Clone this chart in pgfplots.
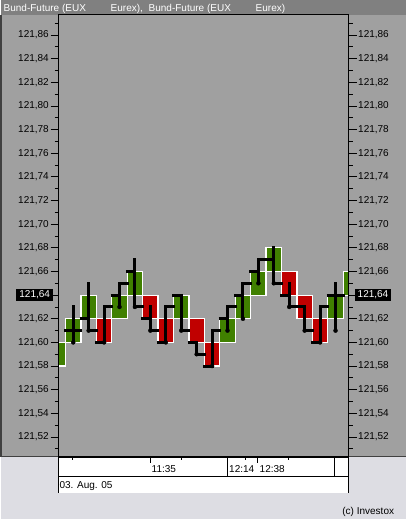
\documentclass[border=0pt]{standalone}
\usepackage{pgfplots}
\pgfplotsset{compat=1.18}
\usepackage{pgfplotstable}
\usepackage{fontspec}
\setmainfont{Liberation Sans}

\definecolor{panel}{HTML}{A0A0A0}
\definecolor{titlebar}{HTML}{808080}
\definecolor{base}{HTML}{DDDDE3}
\definecolor{upgreen}{HTML}{408000}
\definecolor{downred}{HTML}{C00000}

% open tick to the left, close tick to the right
\pgfdeclareplotmark{opentick}{\pgfpathmoveto{\pgfpoint{-9bp}{0pt}}\pgfpathlineto{\pgfpoint{0pt}{0pt}}\pgfusepathqstroke}
\pgfdeclareplotmark{closetick}{\pgfpathmoveto{\pgfpoint{0pt}{0pt}}\pgfpathlineto{\pgfpoint{9bp}{0pt}}\pgfusepathqstroke}

% price bars: centre, low, high, open, close
\pgfplotstableread{
c low high open close
0.5 121.60 121.61 121.60 121.61
1.5 121.60 121.63 121.61 121.61
2.5 121.61 121.65 121.62 121.61
3.5 121.60 121.63 121.60 121.63
4.5 121.63 121.65 121.64 121.65
5.5 121.63 121.67 121.66 121.63
6.5 121.61 121.63 121.62 121.61
7.5 121.60 121.63 121.60 121.63
8.5 121.61 121.64 121.64 121.61
9.5 121.59 121.60 121.60 121.59
10.5 121.58 121.61 121.58 121.61
11.5 121.61 121.63 121.62 121.63
12.5 121.62 121.65 121.64 121.65
13.5 121.65 121.67 121.66 121.67
14.5 121.65 121.68 121.67 121.65
15.5 121.63 121.65 121.64 121.63
16.5 121.61 121.63 121.63 121.61
17.5 121.60 121.63 121.60 121.63
18.5 121.61 121.65 121.64 121.64
19.5 121.63 121.66 121.64 121.65
}\ohlc

% rising boxes (outlines, one per block)
\pgfplotstableread{
x y
0 121.58
1 121.58
1 121.60
0 121.60
0 121.58
nan nan
1 121.60
2 121.60
2 121.62
1 121.62
1 121.60
nan nan
2 121.62
3 121.62
3 121.64
2 121.64
2 121.62
nan nan
4 121.62
5 121.62
5 121.64
4 121.64
4 121.62
nan nan
5 121.64
6 121.64
6 121.66
5 121.66
5 121.64
nan nan
8 121.62
9 121.62
9 121.64
8 121.64
8 121.62
nan nan
11 121.60
12 121.60
12 121.62
11 121.62
11 121.60
nan nan
12 121.62
13 121.62
13 121.64
12 121.64
12 121.62
nan nan
13 121.64
14 121.64
14 121.66
13 121.66
13 121.64
nan nan
14 121.66
15 121.66
15 121.68
14 121.68
14 121.66
nan nan
18 121.62
19 121.62
19 121.64
18 121.64
18 121.62
nan nan
19 121.64
20 121.64
20 121.66
19 121.66
19 121.64
}\upboxes

% falling boxes
\pgfplotstableread{
x y
3 121.60
4 121.60
4 121.62
3 121.62
3 121.60
nan nan
6 121.62
7 121.62
7 121.64
6 121.64
6 121.62
nan nan
7 121.60
8 121.60
8 121.62
7 121.62
7 121.60
nan nan
9 121.60
10 121.60
10 121.62
9 121.62
9 121.60
nan nan
10 121.58
11 121.58
11 121.60
10 121.60
10 121.58
nan nan
15 121.64
16 121.64
16 121.66
15 121.66
15 121.64
nan nan
16 121.62
17 121.62
17 121.64
16 121.64
16 121.62
nan nan
17 121.60
18 121.60
18 121.62
17 121.62
17 121.60
}\downboxes

\pgfplotsset{bund/.style={
  at={(58bp,62bp)}, anchor=south west,
  scale only axis, width=290bp, height=442bp,
  xmin=0.5463, xmax=19.341, ymin=121.5031, ymax=121.8769,
  xtick=\empty,
  ytick={121.52,121.54,121.56,121.58,121.60,121.62,121.64,121.66,121.68,121.70,121.72,121.74,121.76,121.78,121.80,121.82,121.84,121.86},
  minor ytick={121.51,121.53,121.55,121.57,121.59,121.61,121.63,121.65,121.67,121.69,121.71,121.73,121.75,121.77,121.79,121.81,121.83,121.85,121.87},
  tick align=outside, major tick length=8bp, minor tick length=4bp,
  tick style={black, line width=0.8bp},
  axis line style={black, line width=1bp},
  scaled y ticks=false,
  yticklabel style={font=\fontsize{10bp}{12bp}\selectfont, inner sep=1.5bp},
  unbounded coords=jump,
  clip marker paths=true,
  /pgf/number format/.cd, use comma, fixed, fixed zerofill, precision=2, assume math mode=true,
}}

\begin{document}
\begin{tikzpicture}[x=1bp,y=1bp]
% backgrounds
\fill[base] (0,0) rectangle (405,519);
\fill[panel] (0,62) rectangle (405,504);
\fill[titlebar] (0,504) rectangle (405,519);
\draw[black!75, line width=1bp] (0,62) -- (405,62);
\draw[black!75, line width=1bp] (0.5,62) -- (0.5,504);

\begin{axis}[bund, ytick pos=left, yticklabel pos=left]
  \addplot[fill=upgreen, draw=white, line width=1.2bp] table[x=x, y=y] {\upboxes};
  \addplot[fill=downred, draw=white, line width=1.2bp] table[x=x, y=y] {\downboxes};
  \addplot[only marks, mark=none,
    error bars/.cd, y dir=plus, y explicit, error mark=none,
    error bar style={draw=black, line width=3bp, line cap=rect}]
    table[x=c, y=low, y error plus expr=\thisrow{high}-\thisrow{low}] {\ohlc};
  \addplot[only marks, mark=opentick, mark options={draw=black, line width=3bp}] table[x=c, y=open] {\ohlc};
  \addplot[only marks, mark=closetick, mark options={draw=black, line width=3bp}] table[x=c, y=close] {\ohlc};
\end{axis}
\begin{axis}[bund, ytick pos=right, yticklabel pos=right]
\end{axis}

\draw[black, line width=2bp] (58,62) -- (348,62);

% last price
\node[fill=black, text=white, anchor=east, inner xsep=3bp, inner ysep=1bp, minimum height=12bp,
  font=\fontsize{10bp}{12bp}\selectfont] at (52.7,223.85) {121,64};
\node[fill=black, text=white, anchor=west, inner xsep=3bp, inner ysep=1bp, minimum height=12bp,
  font=\fontsize{10bp}{12bp}\selectfont] at (354,223.85) {121,64};

% title bar
\begin{scope}[every node/.style={anchor=base west, inner sep=0pt, text=white, font=\fontsize{10bp}{12bp}\selectfont}]
  \node at (3,507.5) {Bund-Future (EUX};
  \node at (110,507.5) {Eurex),};
  \node at (148,507.5) {Bund-Future (EUX};
  \node at (255,507.5) {Eurex)};
\end{scope}

% time panel
\fill[white] (58,26) rectangle (348,61);
\draw[black, line width=1bp] (58,26) -- (58,62);
\draw[black, line width=1bp] (348,26) -- (348,62);
\draw[black, line width=1bp] (58,42) -- (348,42);
\draw[black, line width=1bp] (227,42) -- (227,61);
\draw[black, line width=1bp] (334,42) -- (334,61);
\foreach \t in {72,181,245,288} \draw[black, line width=0.8bp] (\t,61) -- (\t,59);
\foreach \t in {150,257} \draw[black, line width=0.8bp] (\t,61) -- (\t,56);
\begin{scope}[every node/.style={anchor=base west, inner sep=0pt, font=\fontsize{10bp}{12bp}\selectfont}]
  \node at (151,46.3) {11:35};
  \node at (228.5,46.3) {12:14};
  \node at (259,46.3) {12:38};
  \node at (58.8,30) {03. Aug. 05};
  \node at (341.7,4.5) {(c) Investox};
\end{scope}
\end{tikzpicture}
\end{document}
